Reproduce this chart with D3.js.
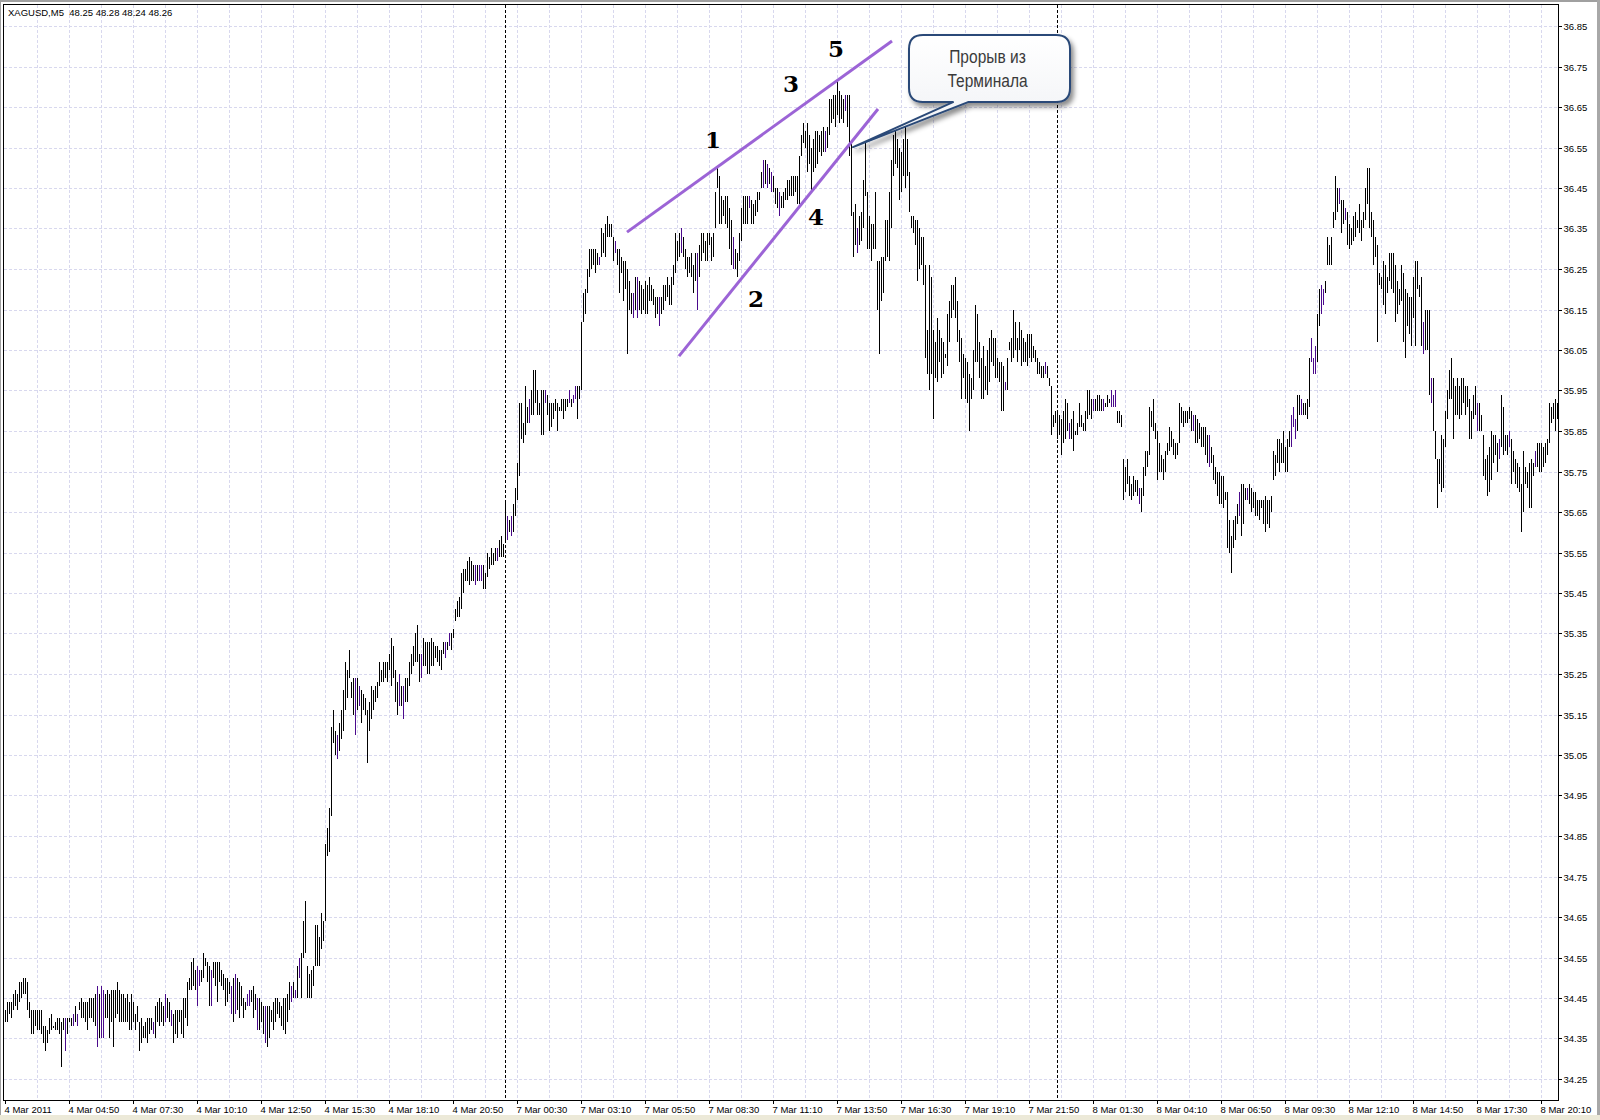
<!DOCTYPE html>
<html>
<head>
<meta charset="utf-8">
<script src="https://cdn.jsdelivr.net/npm/d3@7"></script>
<style>
  html, body { margin: 0; padding: 0; background: #fff; }
  svg { display: block; font-family: "Liberation Sans", Arial, sans-serif; }
</style>
</head>
<body>
<svg id="chart"></svg>
<script>
const W = 1600, H = 1120;

// header line of the chart window
const title = "XAGUSD,M5  48.25 48.28 48.24 48.26";

// 5-minute bars, high and low, left to right (4 Mar 02:10 ... 8 Mar 20:50)
const highs = [
  34.42,34.44,34.44,34.44,34.46,34.47,34.46,34.49,34.49,34.50,
  34.50,34.49,34.44,34.42,34.42,34.42,34.42,34.42,34.42,34.38,
  34.38,34.37,34.40,34.41,34.38,34.39,34.40,34.40,34.39,34.40,
  34.40,34.40,34.40,34.40,34.41,34.43,34.41,34.44,34.45,34.44,
  34.44,34.44,34.45,34.45,34.45,34.46,34.48,34.46,34.48,34.47,
  34.46,34.47,34.46,34.47,34.47,34.47,34.49,34.47,34.46,34.46,
  34.45,34.46,34.44,34.46,34.44,34.41,34.43,34.39,34.40,34.38,
  34.39,34.40,34.40,34.40,34.39,34.43,34.44,34.45,34.44,34.43,
  34.46,34.45,34.44,34.42,34.41,34.42,34.42,34.42,34.42,34.45,
  34.45,34.49,34.50,34.54,34.55,34.52,34.53,34.52,34.52,34.56,
  34.55,34.54,34.53,34.52,34.54,34.54,34.54,34.54,34.52,34.51,
  34.50,34.50,34.49,34.48,34.50,34.51,34.50,34.49,34.48,34.45,
  34.44,34.46,34.47,34.47,34.48,34.46,34.45,34.45,34.44,34.43,
  34.43,34.43,34.43,34.42,34.44,34.45,34.45,34.44,34.43,34.45,
  34.45,34.46,34.49,34.48,34.49,34.47,34.53,34.55,34.56,34.64,
  34.69,34.53,34.51,34.52,34.53,34.63,34.63,34.60,34.66,34.64,
  34.83,34.87,34.92,35.12,35.16,35.11,35.10,35.13,35.16,35.21,
  35.28,35.26,35.31,35.23,35.24,35.24,35.24,35.22,35.21,35.20,
  35.19,35.16,35.18,35.22,35.21,35.22,35.23,35.28,35.26,35.28,
  35.28,35.28,35.30,35.34,35.32,35.26,35.23,35.25,35.22,35.22,
  35.24,35.24,35.28,35.30,35.32,35.35,35.37,35.30,35.30,35.34,
  35.33,35.33,35.33,35.34,35.33,35.32,35.32,35.31,35.31,35.33,
  35.33,35.33,35.35,35.35,35.36,35.41,35.43,35.44,35.50,35.51,
  35.51,35.53,35.54,35.53,35.52,35.52,35.52,35.52,35.52,35.52,
  35.50,35.55,35.54,35.56,35.55,35.56,35.56,35.58,35.59,35.57,
  35.68,35.64,35.63,35.64,35.67,35.71,35.77,35.92,35.92,35.87,
  35.96,35.91,35.93,35.95,36.00,36.00,35.95,35.92,35.95,35.95,
  35.95,35.94,35.92,35.92,35.92,35.93,35.92,35.91,35.93,35.93,
  35.93,35.93,35.95,35.93,35.94,35.96,35.96,35.96,36.12,36.19,
  36.20,36.25,36.30,36.30,36.30,36.30,36.29,36.28,36.35,36.34,
  36.36,36.38,36.36,36.36,36.33,36.32,36.30,36.30,36.28,36.27,
  36.27,36.25,36.22,36.19,36.19,36.23,36.23,36.22,36.21,36.20,
  36.22,36.21,36.23,36.21,36.20,36.18,36.18,36.18,36.18,36.21,
  36.21,36.23,36.21,36.23,36.26,36.34,36.32,36.34,36.35,36.33,
  36.30,36.28,36.28,36.29,36.26,36.29,36.29,36.31,36.34,36.34,
  36.32,36.34,36.34,36.33,36.34,36.44,36.50,36.48,36.43,36.42,
  36.43,36.43,36.40,36.37,36.33,36.30,36.29,36.34,36.40,36.43,
  36.43,36.43,36.43,36.42,36.41,36.42,36.44,36.44,36.49,36.52,
  36.52,36.51,36.50,36.49,36.48,36.45,36.45,36.44,36.43,36.44,
  36.45,36.47,36.47,36.48,36.48,36.48,36.48,36.53,36.58,36.61,
  36.59,36.61,36.58,36.55,36.57,36.59,36.59,36.58,36.59,36.60,
  36.59,36.60,36.67,36.67,36.68,36.68,36.72,36.69,36.68,36.67,
  36.68,36.68,36.68,36.56,36.39,36.41,36.35,36.38,36.39,36.47,
  36.56,36.44,36.38,36.36,36.36,36.44,36.27,36.27,36.28,36.28,
  36.37,36.37,36.44,36.52,36.58,36.59,36.57,36.55,36.54,36.57,
  36.60,36.57,36.49,36.38,36.38,36.37,36.37,36.35,36.33,36.33,
  36.26,36.10,36.26,36.23,36.10,36.07,36.13,36.10,36.08,36.07,
  36.04,36.14,36.17,36.21,36.21,36.23,36.17,36.10,36.08,36.04,
  36.03,36.02,35.99,35.98,36.05,36.16,36.14,36.07,36.03,36.06,
  36.01,36.05,36.08,36.10,36.08,36.08,36.03,36.02,36.02,36.01,
  35.97,36.03,36.07,36.08,36.15,36.12,36.08,36.12,36.10,36.08,
  36.07,36.09,36.09,36.09,36.06,36.05,36.03,36.02,36.01,36.01,
  36.02,36.01,35.98,35.96,35.89,35.90,35.90,35.89,35.88,35.90,
  35.93,35.92,35.87,35.88,35.90,35.85,35.87,35.92,35.89,35.87,
  35.90,35.95,35.95,35.93,35.93,35.93,35.94,35.94,35.93,35.93,
  35.92,35.94,35.93,35.95,35.94,35.95,35.90,35.90,35.89,35.78,
  35.76,35.78,35.74,35.72,35.74,35.73,35.73,35.71,35.71,35.76,
  35.80,35.80,35.91,35.90,35.93,35.87,35.85,35.82,35.79,35.78,
  35.80,35.82,35.86,35.85,35.83,35.82,35.82,35.92,35.91,35.90,
  35.90,35.90,35.91,35.90,35.89,35.89,35.88,35.87,35.86,35.86,
  35.86,35.84,35.84,35.81,35.79,35.76,35.75,35.75,35.74,35.74,
  35.70,35.70,35.63,35.59,35.63,35.64,35.67,35.70,35.72,35.72,
  35.71,35.71,35.72,35.71,35.70,35.70,35.68,35.68,35.68,35.68,
  35.69,35.68,35.68,35.69,35.80,35.79,35.83,35.83,35.82,35.85,
  35.81,35.83,35.85,35.89,35.91,35.88,35.94,35.94,35.93,35.92,
  35.92,35.93,36.03,36.08,36.03,36.06,36.14,36.20,36.21,36.20,
  36.22,36.33,36.31,36.33,36.39,36.48,36.45,36.45,36.42,36.42,
  36.40,36.39,36.36,36.35,36.38,36.39,36.37,36.41,36.37,36.39,
  36.45,36.50,36.50,36.39,36.37,36.33,36.31,36.24,36.23,36.27,
  36.26,36.23,36.29,36.29,36.29,36.26,36.22,36.20,36.26,36.24,
  36.20,36.19,36.18,36.18,36.23,36.27,36.27,36.21,36.23,36.12,
  36.15,36.15,36.15,35.98,35.98,35.85,35.78,35.78,35.84,35.83,
  35.90,35.95,36.00,36.03,35.98,35.96,35.98,35.96,35.98,35.98,
  35.96,35.96,35.93,35.90,35.94,35.96,35.92,35.92,35.89,35.84,
  35.78,35.79,35.81,35.85,35.84,35.84,35.82,35.83,35.94,35.91,
  35.84,35.84,35.85,35.83,35.80,35.78,35.77,35.76,35.72,35.80,
  35.76,35.75,35.77,35.78,35.77,35.80,35.82,35.82,35.82,35.81,
  35.82,35.83,35.92,35.91,35.92,35.93,35.92
];
const lows = [
  34.39,34.39,34.41,34.40,34.42,34.43,34.42,34.44,34.45,34.46,
  34.46,34.42,34.40,34.36,34.36,34.38,34.37,34.37,34.36,34.34,
  34.32,34.34,34.36,34.37,34.375,34.37,34.37,34.36,34.28,34.37,
  34.32,34.36,34.39,34.38,34.38,34.39,34.38,34.42,34.40,34.40,
  34.39,34.37,34.40,34.40,34.39,34.38,34.33,34.35,34.35,34.35,
  34.40,34.40,34.35,34.39,34.33,34.40,34.41,34.39,34.39,34.39,
  34.39,34.39,34.37,34.37,34.39,34.37,34.39,34.32,34.34,34.35,
  34.35,34.34,34.36,34.37,34.36,34.35,34.39,34.38,34.39,34.38,
  34.39,34.40,34.39,34.38,34.34,34.36,34.35,34.39,34.36,34.35,
  34.40,34.38,34.47,34.47,34.48,34.47,34.43,34.48,34.49,34.50,
  34.53,34.49,34.43,34.43,34.50,34.48,34.44,34.49,34.48,34.47,
  34.43,34.44,34.46,34.41,34.39,34.41,34.42,34.40,34.43,34.40,
  34.42,34.43,34.43,34.44,34.40,34.42,34.37,34.37,34.39,34.36,
  34.34,34.33,34.35,34.39,34.37,34.39,34.41,34.40,34.38,34.37,
  34.36,34.39,34.42,34.44,34.45,34.45,34.45,34.50,34.45,34.55,
  34.56,34.45,34.45,34.45,34.48,34.53,34.53,34.53,34.57,34.59,
  34.64,34.80,34.81,34.90,35.08,35.05,35.04,35.06,35.09,35.11,
  35.16,35.19,35.24,35.19,35.15,35.10,35.16,35.17,35.13,35.16,
  35.15,35.03,35.11,35.14,35.16,35.18,35.19,35.22,35.23,35.23,
  35.24,35.23,35.26,35.22,35.24,35.18,35.15,35.17,35.17,35.14,
  35.18,35.18,35.22,35.25,35.27,35.28,35.28,35.23,35.24,35.27,
  35.27,35.25,35.25,35.27,35.27,35.29,35.28,35.27,35.26,35.30,
  35.29,35.31,35.32,35.31,35.34,35.38,35.39,35.39,35.41,35.45,
  35.48,35.48,35.47,35.48,35.48,35.47,35.48,35.48,35.48,35.46,
  35.46,35.49,35.51,35.52,35.52,35.53,35.53,35.54,35.54,35.54,
  35.58,35.58,35.60,35.59,35.60,35.64,35.68,35.74,35.83,35.82,
  35.84,35.87,35.87,35.89,35.89,35.92,35.89,35.89,35.84,35.84,
  35.92,35.89,35.85,35.86,35.88,35.90,35.85,35.90,35.90,35.88,
  35.90,35.91,35.92,35.91,35.92,35.93,35.88,35.93,35.95,36.12,
  36.14,36.19,36.23,36.25,36.26,36.24,36.26,36.26,36.28,36.29,
  36.28,36.33,36.33,36.33,36.27,36.29,36.26,36.19,36.24,36.17,
  36.20,36.04,36.15,36.14,36.13,36.15,36.13,36.15,36.14,36.15,
  36.14,36.14,36.17,36.17,36.16,36.13,36.14,36.11,36.14,36.15,
  36.17,36.18,36.16,36.16,36.21,36.24,36.27,36.28,36.29,36.28,
  36.25,36.23,36.24,36.23,36.19,36.22,36.15,36.23,36.27,36.29,
  36.27,36.27,36.31,36.27,36.28,36.35,36.45,36.36,36.36,36.38,
  36.36,36.35,36.30,36.26,36.25,36.25,36.23,36.27,36.32,36.36,
  36.36,36.36,36.40,36.36,36.36,36.38,36.39,36.42,36.45,36.45,
  36.46,36.45,36.46,36.44,36.44,36.41,36.40,36.38,36.40,36.40,
  36.42,36.42,36.43,36.43,36.43,36.44,36.41,36.41,36.53,36.56,
  36.55,36.49,36.51,36.44,36.49,36.50,36.51,36.54,36.53,36.54,
  36.54,36.55,36.58,36.61,36.62,36.60,36.63,36.61,36.62,36.61,
  36.64,36.60,36.53,36.38,36.28,36.31,36.29,36.31,36.32,36.35,
  36.43,36.30,36.30,36.27,36.30,36.30,36.15,36.04,36.17,36.19,
  36.27,36.28,36.27,36.35,36.48,36.51,36.50,36.42,36.44,36.48,
  36.45,36.48,36.39,36.35,36.34,36.31,36.22,36.25,36.26,36.21,
  36.03,35.99,35.95,35.99,35.88,35.98,35.97,36.02,35.98,35.99,
  36.03,36.01,36.07,36.13,36.15,36.13,36.07,36.02,35.93,35.98,
  35.93,35.92,35.85,35.93,35.95,36.02,36.02,35.98,35.93,35.93,
  35.95,35.94,35.97,36.02,36.01,35.98,35.98,35.97,35.90,35.90,
  35.95,35.95,36.05,36.02,36.03,36.05,36.02,36.05,36.01,36.02,
  36.02,36.01,36.03,36.02,36.03,36.02,35.99,35.99,35.98,35.98,
  35.99,35.98,35.96,35.84,35.86,35.87,35.83,35.84,35.79,35.82,
  35.83,35.85,35.83,35.83,35.80,35.84,35.84,35.86,35.86,35.85,
  35.85,35.88,35.89,35.88,35.90,35.90,35.90,35.90,35.90,35.90,
  35.91,35.91,35.92,35.91,35.91,35.91,35.87,35.87,35.86,35.68,
  35.70,35.72,35.69,35.68,35.69,35.70,35.69,35.67,35.65,35.69,
  35.74,35.76,35.79,35.86,35.85,35.83,35.73,35.75,35.75,35.73,
  35.75,35.79,35.80,35.81,35.79,35.78,35.79,35.82,35.87,35.86,
  35.87,35.87,35.88,35.85,35.85,35.82,35.82,35.83,35.81,35.81,
  35.79,35.77,35.76,35.77,35.73,35.72,35.69,35.67,35.67,35.66,
  35.68,35.56,35.55,35.50,35.56,35.58,35.62,35.64,35.59,35.62,
  35.68,35.68,35.67,35.65,35.66,35.64,35.64,35.63,35.66,35.62,
  35.60,35.62,35.61,35.65,35.73,35.74,35.77,35.75,35.77,35.77,
  35.75,35.75,35.81,35.81,35.86,35.83,35.85,35.89,35.89,35.89,
  35.89,35.88,35.91,36.02,35.99,35.99,36.02,36.11,36.14,36.16,
  36.19,36.26,36.26,36.26,36.35,36.37,36.39,36.41,36.34,36.36,
  36.37,36.31,36.30,36.31,36.32,36.33,36.35,36.34,36.32,36.35,
  36.37,36.41,36.35,36.33,36.26,36.28,36.07,36.21,36.20,36.16,
  36.14,36.19,36.22,36.20,36.19,36.12,36.14,36.16,36.17,36.07,
  36.03,36.11,36.09,36.06,36.13,36.06,36.20,36.18,36.06,36.04,
  36.05,36.05,35.94,35.92,35.85,35.78,35.66,35.72,35.70,35.71,
  35.81,35.88,35.93,35.93,35.83,35.89,35.89,35.88,35.89,35.92,
  35.89,35.91,35.83,35.83,35.88,35.89,35.85,35.85,35.85,35.74,
  35.73,35.69,35.70,35.73,35.77,35.79,35.75,35.78,35.81,35.79,
  35.80,35.79,35.81,35.72,35.75,35.72,35.71,35.70,35.60,35.65,
  35.72,35.71,35.66,35.66,35.74,35.76,35.76,35.75,35.75,35.76,
  35.77,35.79,35.82,35.87,35.88,35.85,35.88
];
// bars drawn in the second (purple) bar colour
const purpleBars = [30,34,36,46,48,49,74,80,83,96,97,103,113,115,121,122,126,130,
  143,145,147,166,175,177,197,199,208,220,222,235,237,238,246,251,253,262,270,282,
  284,285,297,305,314,316,327,338,346,364,372,379,381,383,387,410,420,426,500,520,
  532,544,549,553,554,555,567,594,602,617,621,643,644,645,648,653,654,655,658,659,
  667,670,709,713,736,747,752,765];

// time axis labels, one every 32 bars
const timeLabels = ["4 Mar 2011","4 Mar 04:50","4 Mar 07:30","4 Mar 10:10","4 Mar 12:50",
  "4 Mar 15:30","4 Mar 18:10","4 Mar 20:50","7 Mar 00:30","7 Mar 03:10","7 Mar 05:50",
  "7 Mar 08:30","7 Mar 11:10","7 Mar 13:50","7 Mar 16:30","7 Mar 19:10","7 Mar 21:50",
  "8 Mar 01:30","8 Mar 04:10","8 Mar 06:50","8 Mar 09:30","8 Mar 12:10","8 Mar 14:50",
  "8 Mar 17:30","8 Mar 20:10"];
const priceTicks = [34.25,34.35,34.45,34.55,34.65,34.75,34.85,34.95,35.05,35.15,35.25,
  35.35,35.45,35.55,35.65,35.75,35.85,35.95,36.05,36.15,36.25,36.35,36.45,36.55,36.65,
  36.75,36.85];
// first bar of each new day (period separators)
const daySeparators = [250, 526];

// drawn objects: channel lines, wave numbers, callout (bar index, price)
const trendLines = [
  { from: [311, 36.341], to: [443.5, 36.813] },
  { from: [337, 36.035], to: [436.5, 36.645] }
];
const waveLabels = [
  { t: "1", bar: 354, price: 36.549 },
  { t: "2", bar: 375.5, price: 36.156 },
  { t: "3", bar: 393, price: 36.687 },
  { t: "4", bar: 405.5, price: 36.359 },
  { t: "5", bar: 415.5, price: 36.773 }
];
const callout = { bar: 424, price: 36.551, lines: ["Прорыв из", "Терминала"] };

// ---------------------------------------------------------------
const plot = { left: 3.5, top: 4.5, right: 1558.5, bottom: 1100.5 };

const svg = d3.select("#chart").attr("width", W).attr("height", H);

// window chrome
svg.append("rect").attr("width", W).attr("height", H).attr("fill", "#fff");
svg.append("rect").attr("x", 0).attr("y", 0).attr("width", W).attr("height", 2).attr("fill", "#a0a0a0");
svg.append("rect").attr("x", 0).attr("y", 0).attr("width", 1).attr("height", H).attr("fill", "#a0a0a0");
svg.append("rect").attr("x", 1597).attr("y", 0).attr("width", 3).attr("height", H).attr("fill", "#a8a8a8");
svg.append("rect").attr("x", 0).attr("y", 1115).attr("width", W).attr("height", 5).attr("fill", "#ece9d8");

const x = d3.scaleLinear().domain([0, highs.length - 1]).range([5, 5 + 2 * (highs.length - 1)]);
const y = d3.scaleLinear().domain([34.25, 36.85]).range([1079, 26]);
const px = v => Math.round(x(v)) + 0.5;
const py = v => Math.round(y(v)) + 0.5;

svg.append("defs").append("clipPath").attr("id", "clip")
  .append("rect").attr("x", plot.left).attr("y", plot.top)
  .attr("width", plot.right - plot.left).attr("height", plot.bottom - plot.top);

// grid
const grid = svg.append("g").attr("stroke", "#d8d8ee").attr("stroke-dasharray", "3,2")
  .attr("shape-rendering", "crispEdges");
grid.selectAll("line.h").data(priceTicks).join("line").attr("class", "h")
  .attr("x1", plot.left).attr("x2", plot.right)
  .attr("y1", d => py(d)).attr("y2", d => py(d));
const vGrid = d3.range(16, highs.length, 16);
grid.selectAll("line.v").data(vGrid).join("line").attr("class", "v")
  .attr("y1", plot.top).attr("y2", plot.bottom)
  .attr("x1", d => px(d)).attr("x2", d => px(d));

// period separators
svg.append("g").selectAll("line").data(daySeparators).join("line")
  .attr("x1", d => px(d)).attr("x2", d => px(d))
  .attr("y1", plot.top).attr("y2", plot.bottom)
  .attr("stroke", "#000").attr("stroke-dasharray", "3,2")
  .attr("shape-rendering", "crispEdges");

// bars
const purple = new Set(purpleBars);
const bars = highs.map((h, i) => ({ i, h, l: lows[i] }));
svg.append("g").attr("clip-path", "url(#clip)").attr("shape-rendering", "crispEdges")
  .selectAll("line").data(bars).join("line")
  .attr("x1", d => px(d.i)).attr("x2", d => px(d.i))
  .attr("y1", d => Math.round(y(d.h)))
  .attr("y2", d => Math.max(Math.round(y(d.l)), Math.round(y(d.h)) + 1))
  .attr("stroke", d => purple.has(d.i) ? "#4b0a8c" : "#000")
  .attr("stroke-width", 1);

// frame
svg.append("rect").attr("x", plot.left).attr("y", plot.top)
  .attr("width", plot.right - plot.left).attr("height", plot.bottom - plot.top)
  .attr("fill", "none").attr("stroke", "#000").attr("shape-rendering", "crispEdges");

// price axis
const yAxis = svg.append("g").attr("transform", `translate(${plot.right},0)`)
  .call(d3.axisRight(y).tickValues(priceTicks).tickFormat(d3.format(".2f"))
    .tickSize(3).tickPadding(2));
yAxis.select(".domain").remove();
yAxis.selectAll(".tick").attr("transform", d => `translate(0,${py(d)})`);
yAxis.selectAll("line").attr("stroke", "#000").attr("shape-rendering", "crispEdges");
yAxis.selectAll("text").attr("font-size", 9.5).attr("fill", "#000")
  .attr("font-family", "Liberation Sans, Arial, sans-serif");

// time axis
const tickIdx = timeLabels.map((_, k) => k * 32);
const xAxis = svg.append("g").attr("transform", `translate(0,${plot.bottom})`)
  .call(d3.axisBottom(x).tickValues(tickIdx).tickFormat((d, k) => timeLabels[k])
    .tickSize(3));
xAxis.select(".domain").remove();
xAxis.selectAll(".tick").attr("transform", d => `translate(${px(d)},0)`);
xAxis.selectAll("line").attr("stroke", "#000").attr("shape-rendering", "crispEdges");
xAxis.selectAll("text").attr("font-size", 9.5).attr("fill", "#000")
  .attr("font-family", "Liberation Sans, Arial, sans-serif")
  .attr("text-anchor", "start").attr("x", -1).attr("y", 12.5).attr("dy", null);

// title
svg.append("text").attr("x", 8).attr("y", 16).attr("font-size", 9.5).attr("fill", "#000")
  .style("white-space", "pre").attr("xml:space", "preserve").text(title);

// channel lines
svg.append("g").selectAll("line").data(trendLines).join("line")
  .attr("x1", d => x(d.from[0])).attr("y1", d => y(d.from[1]))
  .attr("x2", d => x(d.to[0])).attr("y2", d => y(d.to[1]))
  .attr("stroke", "#9c64d6").attr("stroke-width", 3);

// wave numbers (slab-serif digits)
svg.append("g").selectAll("text").data(waveLabels).join("text")
  .attr("x", d => x(d.bar)).attr("y", d => y(d.price))
  .attr("text-anchor", "middle")
  .style("font-family", "'DejaVu Serif', 'Liberation Serif', serif")
  .style("font-weight", "bold").style("font-size", "23px").attr("fill", "#000")
  .text(d => d.t);

// callout
const defs = svg.select("defs");
const f = defs.append("filter").attr("id", "shadow")
  .attr("x", "-20%").attr("y", "-30%").attr("width", "150%").attr("height", "180%");
f.append("feDropShadow").attr("dx", 3).attr("dy", 4).attr("stdDeviation", 2.5)
  .attr("flood-color", "#000").attr("flood-opacity", 0.45);
const grad = defs.append("linearGradient").attr("id", "boxFill")
  .attr("x1", 0).attr("y1", 0).attr("x2", 0).attr("y2", 1);
grad.append("stop").attr("offset", "0%").attr("stop-color", "#ffffff");
grad.append("stop").attr("offset", "100%").attr("stop-color", "#eef0f4");

const tx = x(callout.bar), ty = y(callout.price);
const bx0 = tx + 56, bx1 = tx + 217, by0 = ty - 112, by1 = ty - 45, r = 14;
const p = d3.path();
p.moveTo(bx0 + r, by0);
p.lineTo(bx1 - r, by0);
p.quadraticCurveTo(bx1, by0, bx1, by0 + r);
p.lineTo(bx1, by1 - r);
p.quadraticCurveTo(bx1, by1, bx1 - r, by1);
p.lineTo(tx + 115, by1);
p.lineTo(tx, ty);
p.lineTo(tx + 100, by1);
p.lineTo(bx0 + r, by1);
p.quadraticCurveTo(bx0, by1, bx0, by1 - r);
p.lineTo(bx0, by0 + r);
p.quadraticCurveTo(bx0, by0, bx0 + r, by0);
p.closePath();
svg.append("path").attr("d", p.toString())
  .attr("fill", "url(#boxFill)").attr("stroke", "#2b4a78").attr("stroke-width", 2)
  .attr("stroke-linejoin", "round").attr("filter", "url(#shadow)");

// narrow look of the callout font, squeezed horizontally
svg.append("g").selectAll("text").data(callout.lines).join("text")
  .attr("transform", (d, k) => `translate(${(bx0 + bx1) / 2 - 2},${by0 + 28 + k * 23.5}) scale(0.84,1)`)
  .attr("text-anchor", "middle")
  .attr("font-size", 18.5).attr("fill", "#3a3a3a")
  .text(d => d);
</script>
</body>
</html>
